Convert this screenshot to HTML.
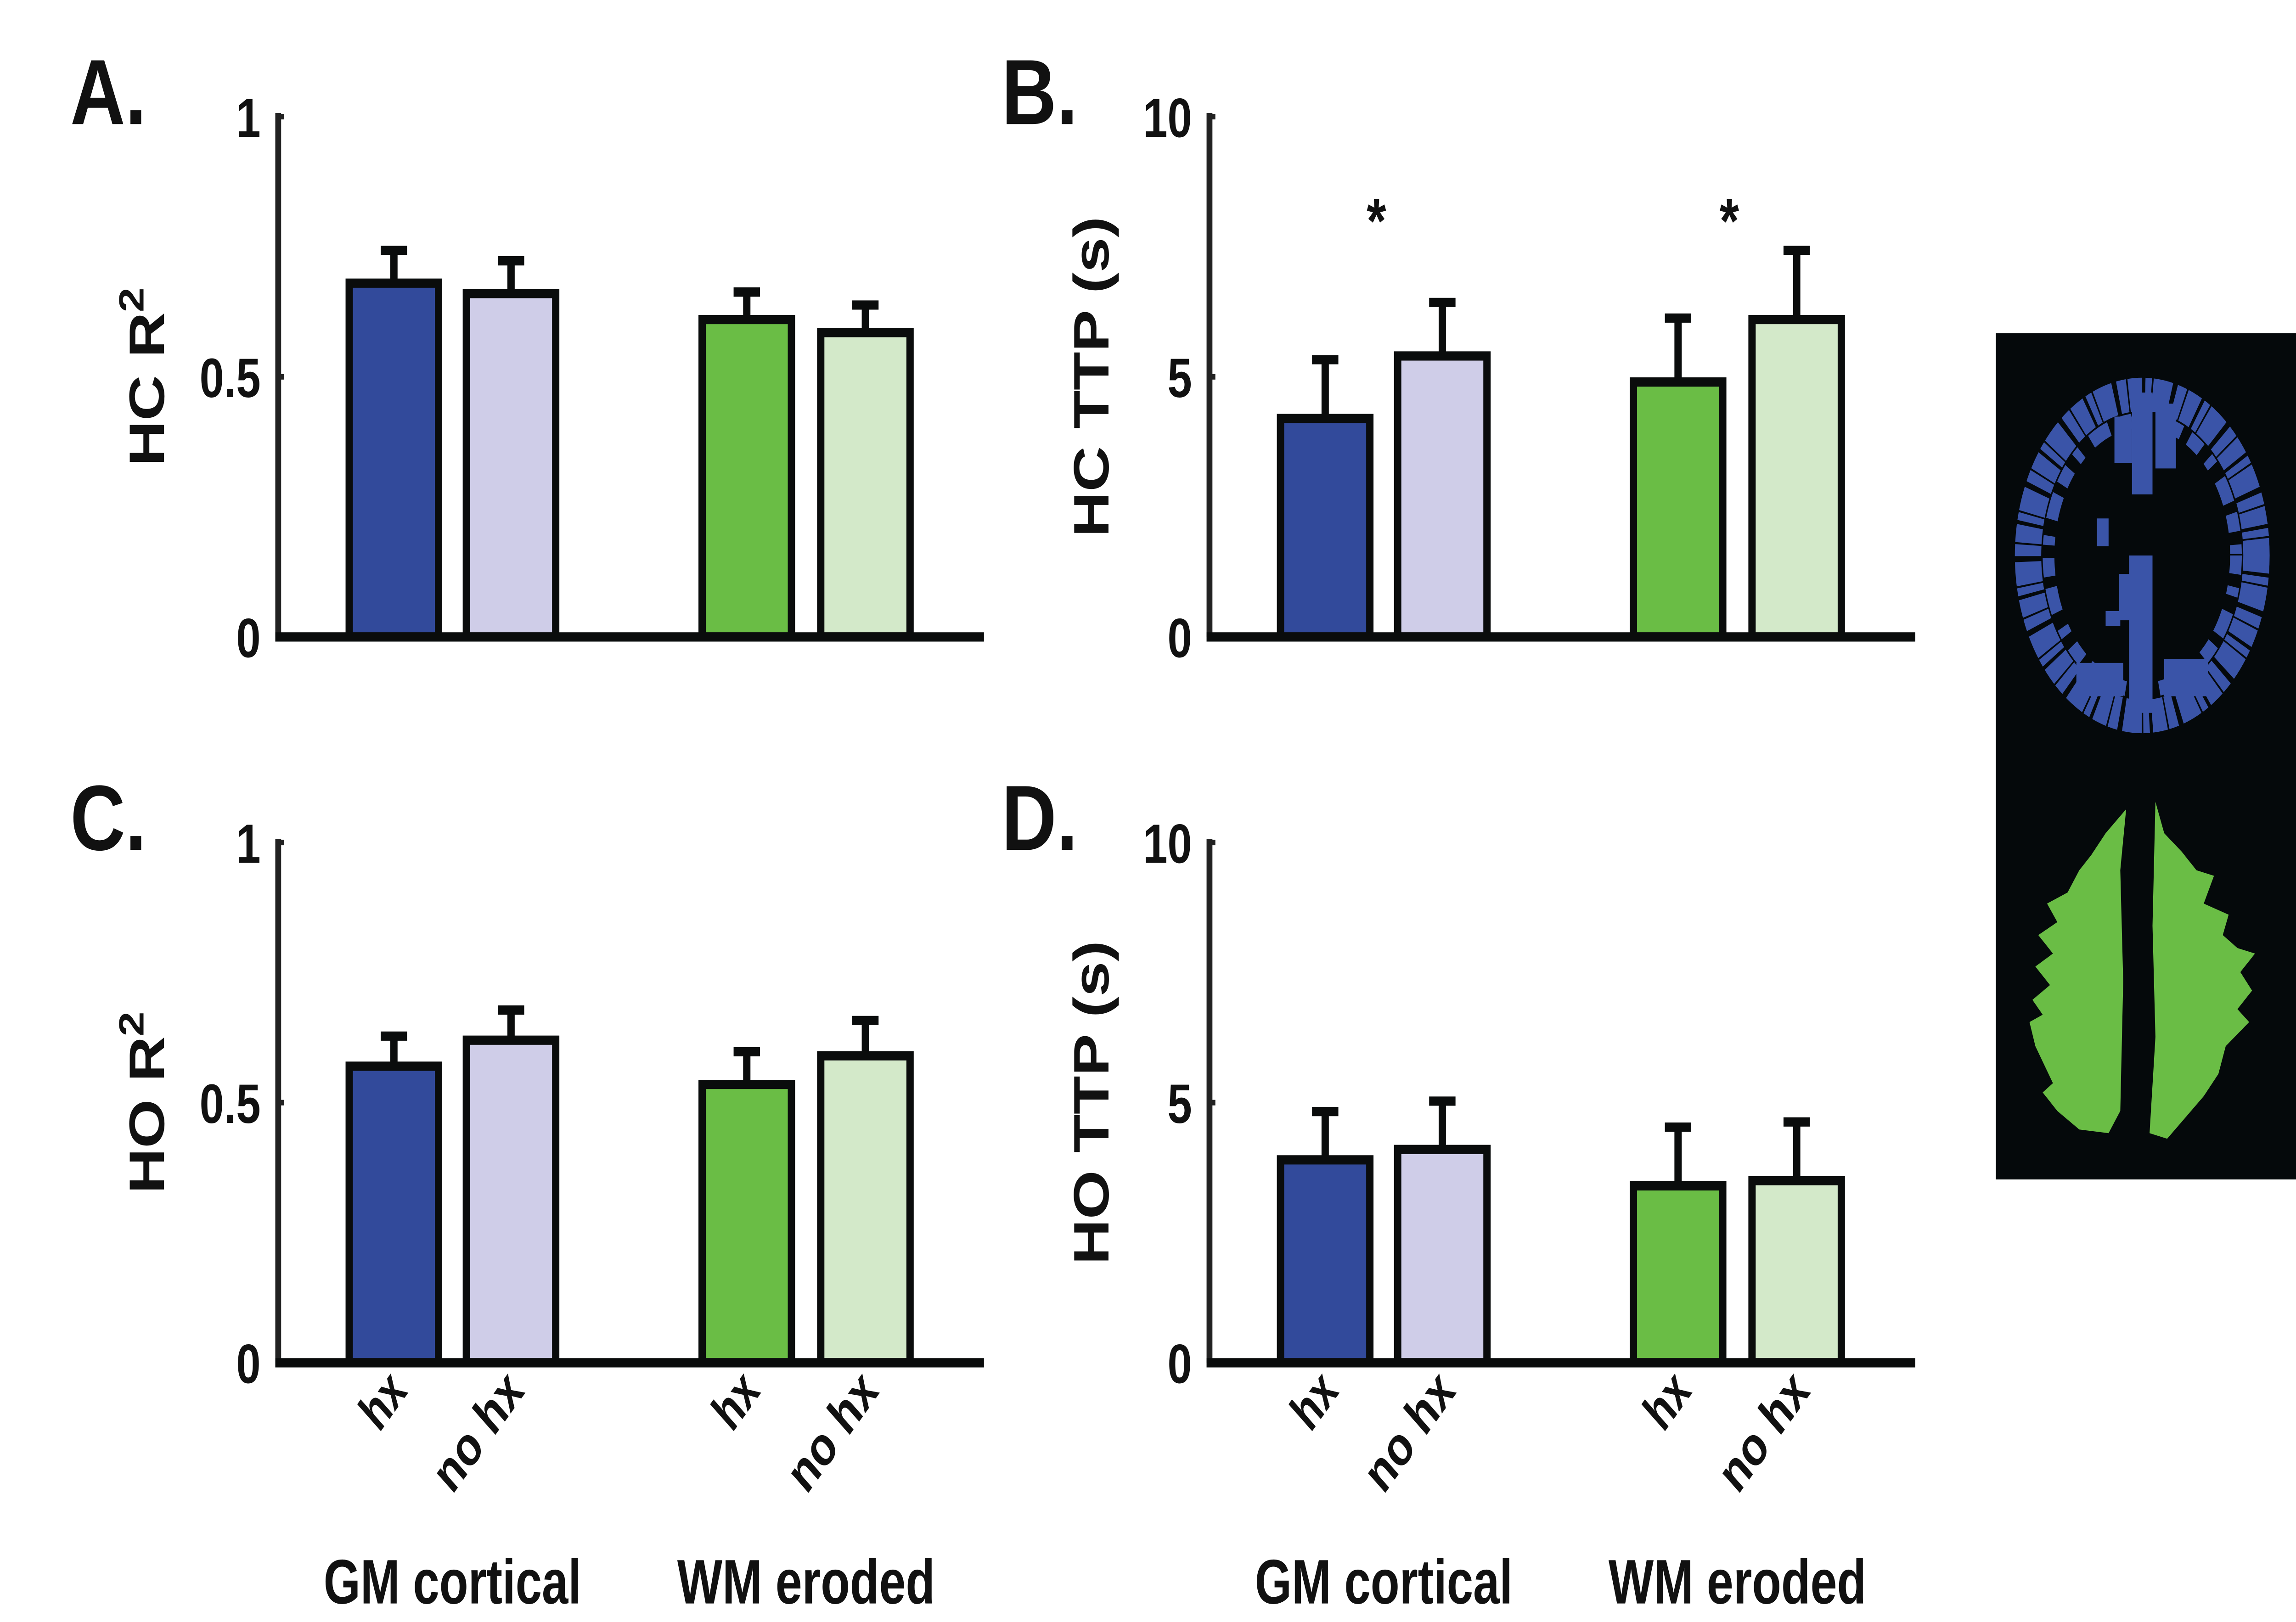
<!DOCTYPE html>
<html><head><meta charset="utf-8">
<style>
html,body{margin:0;padding:0;background:#fff;width:100%;height:100%;overflow:hidden;}
svg{display:block;width:100vw;height:100vh;}
text{font-family:"Liberation Sans",sans-serif;font-weight:bold;fill:#111;}
</style></head>
<body>
<svg id="fig" viewBox="0 0 1568 876" preserveAspectRatio="none" xmlns="http://www.w3.org/2000/svg">
<rect width="1568" height="876" fill="#fff"/>
<g id="charts"></g>
<g>
  <rect x="1363" y="180" width="205" height="457" fill="#05090b"/>
  <g fill="#3a54a8">
    <ellipse cx="1463" cy="300" rx="78" ry="87" fill="none" stroke="#3a54a8" stroke-width="18" stroke-dasharray="9 2 4 1 12 3 6 1"/>
    <ellipse cx="1463" cy="300" rx="64" ry="73" fill="none" stroke="#3a54a8" stroke-width="8" stroke-dasharray="10 7 5 9 14 6"/>
    <rect x="1456" y="212" width="14" height="55"/>
    <rect x="1444" y="225" width="12" height="25"/>
    <rect x="1472" y="218" width="14" height="35"/>
    <rect x="1454" y="300" width="16" height="85"/>
    <rect x="1447" y="310" width="10" height="25"/>
    <rect x="1418" y="358" width="32" height="18"/>
    <rect x="1478" y="356" width="30" height="20"/>
    <rect x="1432" y="280" width="8" height="15"/>
    <rect x="1438" y="330" width="10" height="8"/>
  </g>
  <g fill="#6abd45">
    <polygon points="1452,437 1448,470 1450,530 1448,600 1440,612 1420,610 1405,600 1395,590 1402,585 1390,565 1386,552 1395,548 1388,540 1400,532 1390,522 1402,515 1392,505 1405,498 1398,488 1412,482 1420,470 1428,462 1438,450"/>
    <polygon points="1472,433 1478,450 1490,460 1500,470 1512,473 1505,488 1522,494 1518,505 1528,512 1540,515 1530,525 1538,535 1528,545 1536,552 1520,565 1515,580 1505,592 1492,604 1480,615 1468,612 1472,560 1470,500"/>
  </g>
</g>
<script>
// ---- data ----
const categories = ["hx","no hx","hx","no hx"];
const groups = ["GM cortical","WM eroded"];
const colors = ["#324a9b","#cfcde8","#6abd45","#d3e9c9"];
const valuesA = [0.68, 0.66, 0.61, 0.585];
const errA    = [0.07, 0.07, 0.06, 0.06];
const valuesB = [4.2, 5.4, 4.9, 6.1];
const errB    = [1.2, 1.1, 1.3, 1.4];
const valuesC = [0.57, 0.62, 0.535, 0.59];
const errC    = [0.065, 0.065, 0.07, 0.075];
const valuesD = [3.9, 4.1, 3.4, 3.5];
const errD    = [1.0, 1.0, 1.2, 1.2];
const ticksR2 = [0, 0.5, 1];
const ticksTTP = [0, 5, 10];

const NS="http://www.w3.org/2000/svg";
const root=document.getElementById('charts');
function mk(tag,attrs,parent){const e=document.createElementNS(NS,tag);for(const k in attrs)e.setAttribute(k,attrs[k]);(parent||root).appendChild(e);return e;}

function panel(opt){
  const g=mk('g',{});
  
  
  const x0=opt.x0, x1=opt.x0+482, yTop=opt.yTop, yBot=opt.yTop+281, vmax=opt.vmax;
  const yS=v=>yBot-(v/vmax)*(yBot-yTop);
  const barL=[46,126,287,368];
  const xS=i=>x0+barL[i];
  const L=mk('text',{x:x0-142,y:yTop+4,'font-size':50,'textLength':52,lengthAdjust:'spacingAndGlyphs'},g);
  L.textContent=opt.letter;
  
  
  const ya=mk('line',{x1:x0,y1:yTop-2,x2:x0,y2:yBot,stroke:'#222',"stroke-width":4},g);
  
  
  opt.ticks.forEach(t=>{
    const tl=mk('text',{x:x0-12,y:yS(t)+11,'font-size':30,'text-anchor':'end',fill:'#222'},g);
    tl.textContent=String(t);
    
    
    mk('line',{x1:x0,y1:yS(t),x2:x0+4,y2:yS(t),stroke:'#222','stroke-width':3},g);
  });
  const yt=mk('text',{x:0,y:0,'font-size':34,'text-anchor':'middle',transform:`translate(${opt.ytx},${(yTop+yBot)/2}) rotate(-90)`},g);
  
  
  const t1=mk('tspan',{},yt); t1.textContent=opt.ytitle;
  if(opt.sup){const t2=mk('tspan',{dy:-14,'font-size':24},yt); t2.textContent=opt.sup;}
  opt.values.forEach((v,i)=>{
    const bx=xS(i), w=66, top=yS(v), et=yS(v+opt.err[i]);
    const el=mk('line',{x1:bx+w/2,y1:top,x2:bx+w/2,y2:et,stroke:'#0a0c0c','stroke-width':5},g);
    
    
    mk('line',{x1:bx+w/2-9,y1:et+2,x2:bx+w/2+9,y2:et+2,stroke:'#0a0c0c','stroke-width':5},g);
    const r=mk('rect',{x:bx+2.5,y:top,width:w-5,height:yBot-top,fill:colors[i],stroke:'#0a0c0c','stroke-width':5},g);
    
    
  });
  const xa=mk('line',{x1:x0-2,y1:yBot,x2:x1,y2:yBot,stroke:'#0a0c0c','stroke-width':5},g);
  
  
  if(opt.sig){opt.sig.forEach((s,k)=>{ if(!s) return;
    const i=k*2; const st=mk('text',{x:xS(i)+66+2,y:yTop+68,'font-size':34,'text-anchor':'middle',fill:'#111','font-weight':'normal'},g);
    st.textContent='*';
    
    
  });}
  if(opt.xlabels){
    categories.forEach((c,i)=>{
      const tx=xS(i)+33+10, ty=yBot+16;
      const t=mk('text',{x:0,y:0,'font-size':30,'text-anchor':'end',transform:`translate(${tx},${ty}) rotate(-48)`,'textLength':c.length*15,lengthAdjust:'spacingAndGlyphs'},g);
      t.textContent=c;
      
      
    });
    groups.forEach((gname,k)=>{
      const cx=(xS(k*2)+xS(k*2+1)+66)/2;
      const t=mk('text',{x:cx,y:yBot+130,'font-size':34,'text-anchor':'middle','textLength':176,lengthAdjust:'spacingAndGlyphs'},g);
      t.textContent=gname;
      
      
    });
  }
}
panel({id:'a',letter:'A.',x0:190,yTop:63,vmax:1,ticks:ticksR2,values:valuesA,err:errA,ytitle:'HC R',sup:'2',ytx:112});
panel({id:'b',letter:'B.',x0:826,yTop:63,vmax:10,ticks:ticksTTP,values:valuesB,err:errB,ytitle:'HC TTP (s)',ytx:757,sig:[true,true]});
panel({id:'c',letter:'C.',x0:190,yTop:455,vmax:1,ticks:ticksR2,values:valuesC,err:errC,ytitle:'HO R',sup:'2',ytx:112,xlabels:true});
panel({id:'d',letter:'D.',x0:826,yTop:455,vmax:10,ticks:ticksTTP,values:valuesD,err:errD,ytitle:'HO TTP (s)',ytx:757,xlabels:true});
</script>
</svg>
</body></html>
